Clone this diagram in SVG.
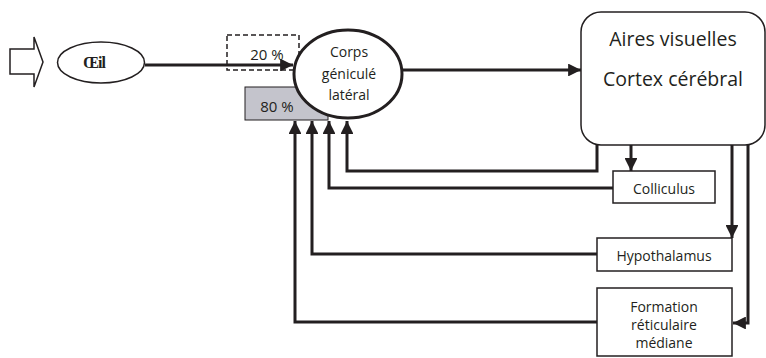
<svg xmlns="http://www.w3.org/2000/svg" width="766" height="358" viewBox="0 0 766 358">
<style>
text{font-family:"Open Sans",Lato,"Liberation Sans",sans-serif;fill:#231f20;text-anchor:middle}
.box{fill:#fff;stroke:#231f20;stroke-width:1.5}
.con{fill:none;stroke:#231f20;stroke-width:3;stroke-linejoin:miter}
.s13{font-size:14px}
.s14{font-size:14px}
.s15{font-size:15px}
.s18{font-size:19.5px}
</style>
<defs>
<marker id="ah" viewBox="0 0 10 10" refX="10" refY="5" markerWidth="4.3" markerHeight="4.3" orient="auto" markerUnits="strokeWidth">
<path d="M0,0 L10,5 L0,10 Z" fill="#231f20"/>
</marker>
</defs>
<g id="input-arrow">
<path d="M10,49 L34,49 L34,37 L43,62 L34,87 L34,74 L10,74 Z" fill="#fff" stroke="#231f20" stroke-width="1.5"/>
</g>
<g id="oeil">
<ellipse cx="101" cy="62.5" rx="43.5" ry="20.5" class="box"/>
<text x="94" y="68" style="font-family:'Liberation Serif',serif;font-weight:bold;font-size:16px;letter-spacing:-1px">Œil</text>
</g>
<g id="pct20">
<rect x="227" y="35" width="72" height="35" fill="none" stroke="#231f20" stroke-width="1.5" stroke-dasharray="5,3"/>
<text x="267" y="60" class="s15">20 %</text>
</g>
<g id="pct80">
<rect x="245" y="87" width="83" height="33" fill="#c4c4cc" stroke="#231f20" stroke-width="1"/>
<text x="277" y="112" class="s15">80 %</text>
</g>
<g id="connectors">
<path class="con" d="M145,65 L293,65" marker-end="url(#ah)"/>
<path class="con" d="M402,70 L581,70" marker-end="url(#ah)"/>
<path class="con" d="M597,120 L597,171 L347,171 L347,121" marker-end="url(#ah)"/>
<path class="con" d="M631,120 L631,171" marker-end="url(#ah)"/>
<path class="con" d="M613,188 L329,188 L329,121" marker-end="url(#ah)"/>
<path class="con" d="M732,120 L732,238" marker-end="url(#ah)"/>
<path class="con" d="M597,254 L312,254 L312,121" marker-end="url(#ah)"/>
<path class="con" d="M748,120 L748,323 L733,323" marker-end="url(#ah)"/>
<path class="con" d="M597,322 L295,322 L295,121" marker-end="url(#ah)"/>
</g>
<g id="cgl">
<ellipse cx="348" cy="74" rx="54" ry="44" fill="#fff" stroke="#231f20" stroke-width="3"/>
<text x="349" y="57" class="s14">Corps</text>
<text x="349" y="79" class="s14">géniculé</text>
<text x="349" y="100" class="s14">latéral</text>
</g>
<g id="cortex">
<rect x="581" y="12" width="184" height="133" rx="20" class="box"/>
<text x="673" y="46" class="s18">Aires visuelles</text>
<text x="673" y="86" class="s18">Cortex cérébral</text>
</g>
<g id="colliculus">
<rect x="613" y="171" width="102" height="32" class="box"/>
<text x="664" y="194" class="s13">Colliculus</text>
</g>
<g id="hypothalamus">
<rect x="597" y="238" width="135" height="33" class="box"/>
<text x="664" y="261" class="s13">Hypothalamus</text>
</g>
<g id="formation">
<rect x="597" y="288" width="135" height="68" class="box"/>
<text x="664" y="312" class="s13">Formation</text>
<text x="664" y="330" class="s13">réticulaire</text>
<text x="664" y="348" class="s13">médiane</text>
</g>
</svg>
